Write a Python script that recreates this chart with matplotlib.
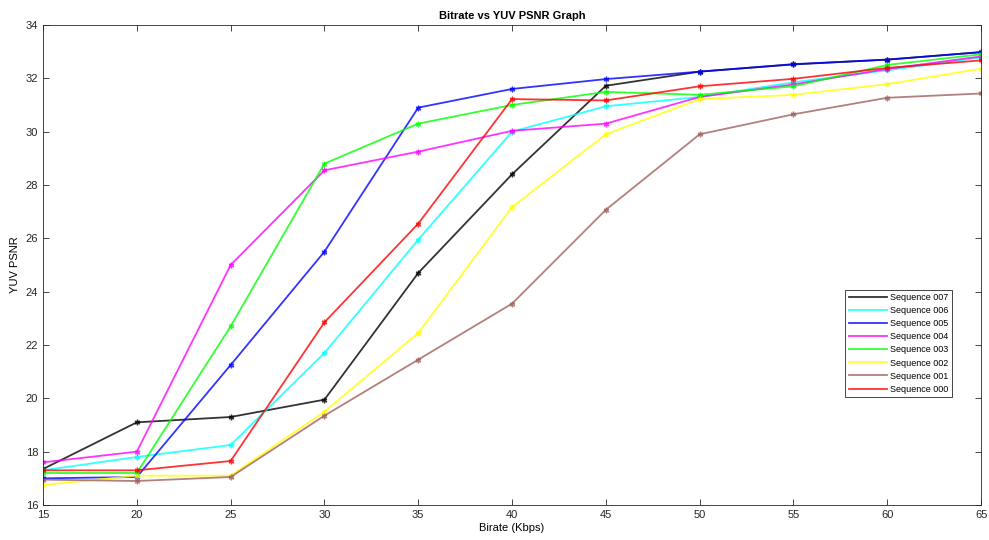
import numpy as np
import matplotlib.pyplot as plt

plt.rcParams['font.family'] = ['Liberation Sans', 'DejaVu Sans']

bitrate = [15, 20, 25, 30, 35, 40, 45, 50, 55, 60, 65]

seq_names = ['Sequence 007', 'Sequence 006', 'Sequence 005', 'Sequence 004',
             'Sequence 003', 'Sequence 002', 'Sequence 001', 'Sequence 000']

seq007 = [17.35, 19.1, 19.3, 19.95, 24.7, 28.4, 31.72, 32.25, 32.52, 32.7, 32.98]
seq006 = [17.3, 17.8, 18.25, 21.7, 25.95, 30.0, 30.95, 31.3, 31.85, 32.3, 32.78]
seq005 = [17.0, 17.05, 21.25, 25.5, 30.9, 31.6, 31.97, 32.25, 32.53, 32.7, 32.98]
seq004 = [17.6, 18.0, 25.0, 28.55, 29.25, 30.03, 30.3, 31.3, 31.77, 32.35, 32.82]
seq003 = [17.2, 17.2, 22.7, 28.8, 30.3, 31.0, 31.49, 31.38, 31.7, 32.5, 32.9]
seq002 = [16.75, 17.1, 17.1, 19.5, 22.45, 27.17, 29.9, 31.22, 31.38, 31.78, 32.36]
seq001 = [16.95, 16.9, 17.05, 19.35, 21.45, 23.55, 27.07, 29.9, 30.65, 31.27, 31.43]
seq000 = [17.3, 17.3, 17.65, 22.85, 26.55, 31.22, 31.17, 31.7, 31.98, 32.39, 32.67]

series = [seq007, seq006, seq005, seq004, seq003, seq002, seq001, seq000]
colors = ['#000000', '#00ffff', '#0000ff', '#ff00ff',
          '#00ff00', '#ffff00', '#a0605a', '#ff0000']

fig = plt.figure(figsize=(9.89, 5.40), dpi=100)
ax = fig.add_axes([0.0435, 0.0648, 0.9485, 0.889])

for vals, name, c in zip(series, seq_names, colors):
    ax.plot(bitrate, vals, color=c, linewidth=1.3, alpha=0.8,
            marker=(6, 2, 0), markersize=4, markeredgewidth=1.0, label=name)

ax.set_xlim(15, 65)
ax.set_ylim(16, 34)
ax.set_xticks(np.arange(15, 66, 5))
ax.set_yticks(np.arange(16, 35, 2))
ax.tick_params(direction='in', top=True, right=True, length=4, width=0.6,
               labelsize=8, colors='#262626')
for sp in ax.spines.values():
    sp.set_color('#262626')
    sp.set_linewidth(0.6)

ax.set_title('Bitrate vs YUV PSNR Graph', fontsize=8, fontweight='bold', pad=4)
ax.set_xlabel('Birate (Kbps)', fontsize=8, labelpad=2)
ax.set_ylabel('YUV PSNR', fontsize=8, labelpad=4)

leg = ax.legend(loc='lower left', bbox_to_anchor=(0.850, 0.215), fontsize=6.5,
                frameon=True, fancybox=False, framealpha=1, borderpad=0.4,
                handlelength=4.3, labelspacing=0.45, handletextpad=0.3)
leg.get_frame().set_edgecolor('#262626')
leg.get_frame().set_linewidth(0.6)
for h in leg.get_lines():
    h.set_marker('')

fig.savefig('out.png', dpi=100)
